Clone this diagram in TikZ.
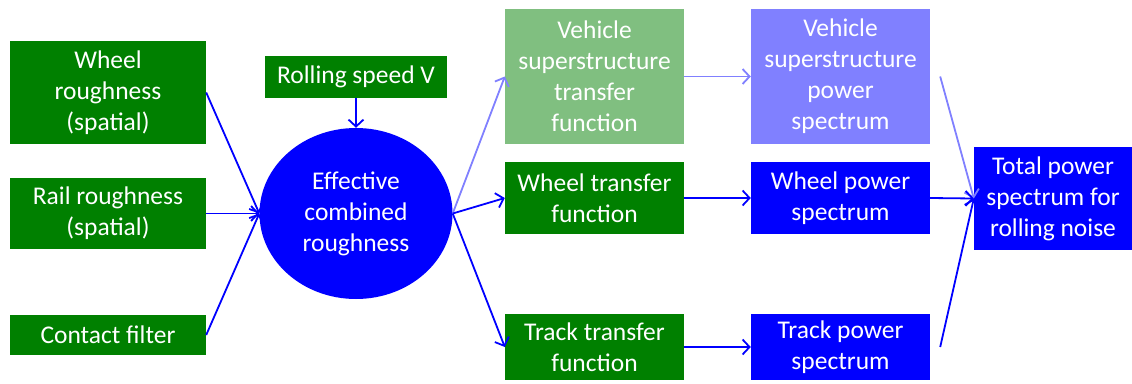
\documentclass[tikz,border=0pt]{standalone}
\usepackage{fontspec}
\setmainfont{Carlito}
\usepackage{tikz}
\usetikzlibrary{shapes.geometric, arrows.meta}

\definecolor{dkgreen}{RGB}{0,128,0}
\definecolor{ltgreen}{RGB}{128,191,128}
\definecolor{ltblue}{RGB}{128,128,255}

\begin{document}
\begin{tikzpicture}[x = 1pt, y = -1pt,
  box/.style = {rectangle, inner sep = 0pt, text = white, align = center, font = \fontsize{25.5}{31}\selectfont},
  flow/.style = {line width = 1.8pt, draw = blue, -{Straight Barb[length = 7pt, width = 15pt]}},
  faint/.style = {flow, draw = ltblue}]
\useasboundingbox (0,0) rectangle (1132,383);
\node[box, fill = dkgreen, minimum width = 196pt, minimum height = 103pt] (wheelr) at (108,92.5) {Wheel\\roughness\\(spatial)};
\node[box, fill = dkgreen, minimum width = 196pt, minimum height = 71pt] (railr) at (108,213.5) {Rail roughness\\(spatial)};
\node[box, fill = dkgreen, minimum width = 196pt, minimum height = 40pt] (contact) at (108,335) {Contact filter};
\node[box, fill = dkgreen, minimum width = 182pt, minimum height = 42pt] (speed) at (356,77) {Rolling speed V};
\node[box, ellipse, fill = blue, minimum width = 193pt, minimum height = 171pt] (eff) at (356,213.5) {Effective\\combined\\roughness};
\node[box, fill = ltgreen, minimum width = 179pt, minimum height = 135pt] (vstf) at (594.5,76.5) {Vehicle\\superstructure\\transfer\\function};
\node[box, fill = ltblue, minimum width = 179pt, minimum height = 135pt] (vsps) at (840.5,76.5) {Vehicle\\superstructure\\power\\spectrum};
\node[box, fill = dkgreen, minimum width = 179pt, minimum height = 72pt] (wtf) at (594.5,198) {Wheel transfer\\function};
\node[box, fill = blue, minimum width = 179pt, minimum height = 72pt] (wps) at (840.5,198) {Wheel power\\spectrum};
\node[box, fill = dkgreen, minimum width = 179pt, minimum height = 66pt] (ttf) at (594.5,347) {Track transfer\\function};
\node[box, fill = blue, minimum width = 179pt, minimum height = 66pt] (tps) at (840.5,347) {Track power\\spectrum};
\node[box, fill = blue, minimum width = 158pt, minimum height = 103pt] (total) at (1053,198.5) {Total power\\spectrum for\\rolling noise};
\draw[flow] (wheelr.east) -- (eff.west);
\draw[flow] (railr.east) -- (eff.west);
\draw[flow] (contact.east) -- (eff.west);
\draw[flow] (speed.south) -- (eff.north);
\draw[faint] (eff.east) -- (vstf.west);
\draw[flow] (eff.east) -- (wtf.west);
\draw[flow] (eff.east) -- (ttf.west);
\draw[faint] (vstf.east) -- (vsps.west);
\draw[flow] (wtf.east) -- (wps.west);
\draw[flow] (ttf.east) -- (tps.west);
\draw[faint] ([xshift = 10pt]vsps.east) -- (total.west);
\draw[flow] (wps.east) -- (total.west);
\draw[flow] ([xshift = 10pt]tps.east) -- (total.west);
\end{tikzpicture}
\end{document}
